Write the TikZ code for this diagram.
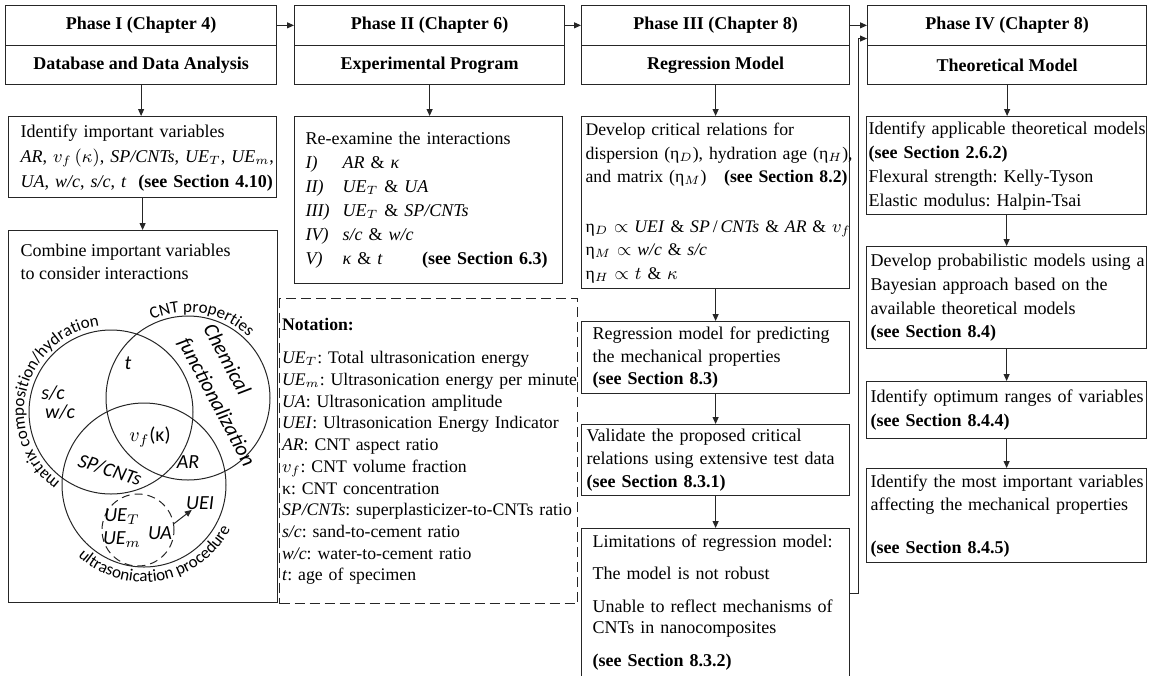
\documentclass[tikz,border=0pt]{standalone}
\usepackage{fontspec}
\setmainfont{Liberation Serif}
\newfontfamily\vennfont{Carlito}
\usepackage{tikz}
\usetikzlibrary{arrows.meta,decorations.text}
\frenchspacing

% one unbreakable block of lines, left aligned
\newcommand{\txtlines}[1]{\begin{tabular}{@{}l@{}}#1\end{tabular}}

\tikzset{
  hd/.style={draw=black!85, line width=0.6pt, anchor=north west, minimum height=19.75pt, inner sep=0pt, font=\fontsize{9}{11}\selectfont\bfseries},
  box/.style={draw=black!85, line width=0.6pt, anchor=north west, align=left, inner ysep=0pt, font=\fontsize{9}{12}\selectfont},
  arr/.style={line width=0.5pt, draw=black!85, -{Triangle[length=3.5pt,width=3pt]}},
  ring/.style={line width=0.5pt, draw=black!85},
  vtxt/.style={inner sep=0pt, font=\vennfont\itshape\fontsize{10}{10}\selectfont},
}

\begin{document}
\begin{tikzpicture}[x=0.5pt,y=-0.5pt]
	\useasboundingbox (0,0) rectangle (1149,675);

	% phase headers
	\node[hd, minimum width=135.5pt] at (5,5)    (ph1)  {Phase I (Chapter 4)};
	\node[hd, minimum width=135.5pt] at (5,44.5) (ph1s) {Database and Data Analysis};
	\node[hd, minimum width=135pt]   at (294,5)    (ph2)  {Phase II (Chapter 6)};
	\node[hd, minimum width=135pt]   at (294,44.5) (ph2s) {Experimental Program};
	\node[hd, minimum width=134pt]   at (581,5)    (ph3)  {Phase III (Chapter 8)};
	\node[hd, minimum width=134pt]   at (581,44.5) (ph3s) {Regression Model};
	\node[hd, minimum width=139.5pt] at (867,5)    (ph4)  {Phase IV (Chapter 8)};
	\node[hd, minimum width=139.5pt] at (867,44.5) (ph4s) {Theoretical Model};

	% Phase I
	\node[box, text width=122pt, inner xsep=6pt, minimum height=40.5pt, font=\fontsize{9}{12.5}\selectfont] at (8,116) (idvar)
	  {\txtlines{Identify important variables\\
	   \textit{AR}, $v_f\,(\kappa)$, \textit{SP/CNTs}, \textit{UE}$_T$, \textit{UE}$_m$,\\
	   \textit{UA}, \textit{w/c}, \textit{s/c}, \textit{t}\ \ \textbf{(see Section 4.10)}}};
	\node[box, minimum width=134.5pt, minimum height=186pt] at (8,230) (comb) {};
	\node[box, draw=none, inner sep=0pt, font=\fontsize{9}{11.5}\selectfont] at (20,243) (combtxt)
	  {Combine important variables\\to consider interactions};

	% venn diagram
	\draw[ring] (111,412) circle[radius=82];
	\draw[ring] (188,398) circle[radius=82];
	\draw[ring] (144,485) circle[radius=82];
	\path[decorate, decoration={text along path, text align=center,
	  text={|\vennfont\fontsize{8.5}{8.5}\selectfont|matrix composition/hydration}}]
	  (111,412) ++(120:87) arc[start angle=120, end angle=268, radius=87];
	\path[decorate, decoration={text along path, text align=center,
	  text={|\vennfont\fontsize{8.5}{8.5}\selectfont|CNT properties}}]
	  (188,398) ++(240:86) arc[start angle=240, end angle=320, radius=86];
	\path[decorate, decoration={text along path, text align=center,
	  text={|\vennfont\fontsize{8.5}{8.5}\selectfont|ultrasonication procedure}}]
	  (144,485) ++(145:97) arc[start angle=145, end angle=15, radius=97];

	\node[vtxt, font=\vennfont\itshape\fontsize{10.5}{14.5}\selectfont, rotate=-62, align=left, anchor=north west] at (216,321) (chem)
	  {Chemical\\functionalization};
	\node[vtxt] at (128,363) (tlab)  {t};
	\node[vtxt] at (53,393)  (sclab) {s/c};
	\node[vtxt] at (60,412)  (wclab) {w/c};
	\node[vtxt, font=\vennfont\fontsize{10}{10}\selectfont] at (150,437) (vflab) {$v_f$(κ)};
	\node[vtxt, rotate=-18] at (110,470) (splab) {SP/CNTs};
	\node[vtxt] at (188,462) (arlab)  {AR};
	\node[vtxt] at (200,503) (ueilab) {UEI};
	\node[draw=black!85, line width=0.5pt, dash pattern=on 4pt off 2.5pt, circle, minimum size=36pt, inner sep=0pt] at (138,530) (dashc) {};
	\node[vtxt] at (122,517) (uetlab) {UE$_T$};
	\node[vtxt] at (122,540) (uemlab) {UE$_m$};
	\node[vtxt] at (160,533) (ualab)  {UA};
	\draw[arr] (dashc.10) -- ([xshift=3pt]ueilab.south west);

	% Phase II
	\node[box, text width=123pt, inner xsep=5.5pt, minimum height=83.5pt] at (294,116) (reex)
	  {\txtlines{Re-examine the interactions\\
	   \makebox[18.5pt][l]{\textit{I)}}\textit{AR} \& \textit{κ}\\
	   \makebox[18.5pt][l]{\textit{II)}}\textit{UE}$_T$ \& \textit{UA}\\
	   \makebox[18.5pt][l]{\textit{III)}}\textit{UE}$_T$ \& \textit{SP/CNTs}\\
	   \makebox[18.5pt][l]{\textit{IV)}}\textit{s/c} \& \textit{w/c}\\
	   \makebox[121pt][s]{\makebox[18.5pt][l]{\textit{V)}}\textit{κ} \& \textit{t}\hfill\textbf{(see Section 6.3)}}}};
	\node[box, dash pattern=on 5pt off 2.5pt, text width=146.5pt, inner xsep=1.25pt, minimum height=152.5pt, font=\fontsize{8.85}{10.85}\selectfont] at (279,298) (nota)
	  {\txtlines{\textbf{Notation:}\\[6pt]
	   \textit{UE}$_T$: Total ultrasonication energy\\
	   \textit{UE}$_m$: Ultrasonication energy per minute\\
	   \textit{UA}: Ultrasonication amplitude\\
	   \textit{UEI}: Ultrasonication Energy Indicator\\
	   \textit{AR}: CNT aspect ratio\\
	   $v_f$: CNT volume fraction\\
	   κ: CNT concentration\\
	   \textit{SP/CNTs}: superplasticizer-to-CNTs ratio\\
	   \textit{s/c}: sand-to-cement ratio\\
	   \textit{w/c}: water-to-cement ratio\\
	   \textit{t}: age of specimen}};

	% Phase III
	\node[box, text width=130pt, inner xsep=2pt, minimum height=86pt, font=\fontsize{8.85}{11.75}\selectfont] at (581,116) (crit)
	  {\txtlines{Develop critical relations for\\
	   dispersion (η$_D$), hydration age (η$_H$),\\
	   and matrix (η$_M$)\ \ \ \textbf{(see Section 8.2)}\\[13pt]
	   η$_D$ $\propto$ \textit{UEI} \& \textit{SP}\,/\,\textit{CNTs} \& \textit{AR} \& $v_f$\\
	   η$_M$ $\propto$ \textit{w/c} \& \textit{s/c}\\
	   η$_H$ $\propto$ $t$ \& $\kappa$}};
	\node[box, text width=123pt, inner xsep=5.5pt, minimum height=36pt, font=\fontsize{9}{11.25}\selectfont] at (581,321) (regr)
	  {\txtlines{Regression model for predicting\\the mechanical properties\\\textbf{(see Section 8.3)}}};
	\node[box, text width=129pt, inner xsep=2.5pt, minimum height=35.5pt, font=\fontsize{9}{11.5}\selectfont] at (581,424) (valid)
	  {\txtlines{Validate the proposed critical\\relations using extensive test data\\\textbf{(see Section 8.3.1)}}};
	\node[box, text width=123pt, inner xsep=5.5pt, minimum height=74pt, font=\fontsize{9}{10.75}\selectfont] at (581,528) (lim)
	  {\txtlines{Limitations of regression model:\\[5.5pt]
	   The model is not robust\\[5.5pt]
	   Unable to reflect mechanisms of\\
	   CNTs in nanocomposites\\[5.5pt]
	   \textbf{(see Section 8.3.2)}}};

	% Phase IV
	\node[box, text width=138pt, inner xsep=1pt, minimum height=49pt] at (866,116) (theo)
	  {\txtlines{Identify applicable theoretical models\\
	   \textbf{(see Section 2.6.2)}\\
	   Flexural strength: Kelly-Tyson\\
	   Elastic modulus: Halpin-Tsai}};
	\node[box, text width=136pt, inner xsep=2pt, minimum height=51pt, font=\fontsize{9}{11.8}\selectfont] at (866,246) (prob)
	  {\txtlines{Develop probabilistic models using a\\
	   Bayesian approach based on the\\
	   available theoretical models\\
	   \textbf{(see Section 8.4)}}};
	\node[box, text width=136pt, inner xsep=2pt, minimum height=28.5pt] at (866,381) (optim)
	  {\txtlines{Identify optimum ranges of variables\\\textbf{(see Section 8.4.4)}}};
	\node[box, text width=136pt, inner xsep=2pt, minimum height=47pt, font=\fontsize{9}{11.5}\selectfont] at (866,468) (imp)
	  {\txtlines{Identify the most important variables\\
	   affecting the mechanical properties\\[10pt]
	   \textbf{(see Section 8.4.5)}}};

	% connectors
	\draw[arr] (ph1.east) -- (ph2.west);
	\draw[arr] (ph2.east) -- (ph3.west);
	\draw[arr] (ph3.east) -- (ph4.west);
	\draw[arr] ([yshift=4.5pt]lim.east) -- ++(4pt,0) |- ([yshift=-6.6pt]ph4.west);

	\draw[arr] (ph1s.south) -- (ph1s.south |- idvar.north);
	\draw[arr] (idvar.south) -- (idvar.south |- comb.north);
	\draw[arr] (ph2s.south) -- (ph2s.south |- reex.north);
	\draw[arr] (ph3s.south) -- (ph3s.south |- crit.north);
	\draw[arr] (crit.south) -- (regr.north);
	\draw[arr] (regr.south) -- (valid.north);
	\draw[arr] (valid.south) -- (lim.north);
	\draw[arr] (ph4s.south) -- (ph4s.south |- theo.north);
	\draw[arr] (theo.south) -- (prob.north);
	\draw[arr] (prob.south) -- (optim.north);
	\draw[arr] (optim.south) -- (imp.north);
\end{tikzpicture}
\end{document}
